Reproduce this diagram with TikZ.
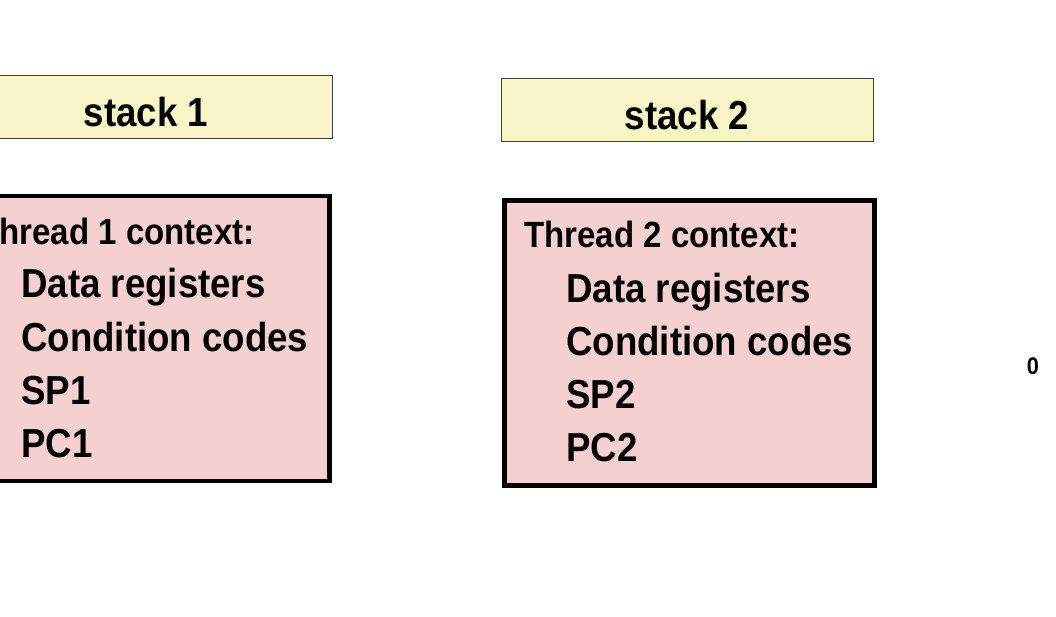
\documentclass[tikz,border=0pt]{standalone}
\usepackage{fontspec}
\setmainfont{Liberation Sans}[FakeStretch=0.905]
\usepackage{tikz}
\usetikzlibrary{positioning}
\definecolor{stackFill}{HTML}{F8F5C8}
\definecolor{ctxFill}{HTML}{F4D0D0}
\definecolor{stackLine}{HTML}{404040}

\begin{document}
\begin{tikzpicture}[x=1pt,y=-1pt]
  \tikzset{stackbox/.style={draw=stackLine,fill=stackFill,line width=1pt,minimum width=372pt,minimum height=63pt,inner sep=0pt,text height=39pt,text depth=0pt,font=\fontsize{40.5}{44}\selectfont\bfseries},
    ctxbox/.style={draw=black,fill=ctxFill,line width=4.5pt,minimum width=370pt,minimum height=285pt,inner sep=0pt},
    ctxhead/.style={anchor=base west,inner sep=0pt,font=\fontsize{36.5}{40}\selectfont\bfseries},
    ctxitem/.style={ctxhead,font=\fontsize{40.5}{44}\selectfont\bfseries}}
  \useasboundingbox (0,0) rectangle (1056,617);
  \clip (0,0) rectangle (1056,617);
  % stacks
  \node[stackbox] (s1) at (146,107.5) {stack 1};
  \node[stackbox] (s2) at (687,110.5) {stack 2};
  % thread 1
  \node[ctxbox] (c1) at (144.5,338.5) {};
  \node[ctxhead] (h1) at (-21,244.5) {Thread 1 context:};
  \node[ctxitem] (d1) at (21,298) {Data registers};
  \node[ctxitem] (k1) at (21,351) {Condition codes};
  \node[ctxitem] (sp1) at (21,404) {SP1};
  \node[ctxitem] (pc1) at (21,457) {PC1};
  % thread 2
  \node[ctxbox] (c2) at (689.5,343) {};
  \node[ctxhead] (h2) at (524,248) {Thread 2 context:};
  \node[ctxitem] (d2) at (566,302) {Data registers};
  \node[ctxitem] (k2) at (566,355) {Condition codes};
  \node[ctxitem] (sp2) at (566,408) {SP2};
  \node[ctxitem] (pc2) at (566,461) {PC2};
  \node[inner sep=0pt,font=\fontsize{24}{26}\selectfont\bfseries] (zero) at (1033,366) {0};
\end{tikzpicture}
\end{document}
